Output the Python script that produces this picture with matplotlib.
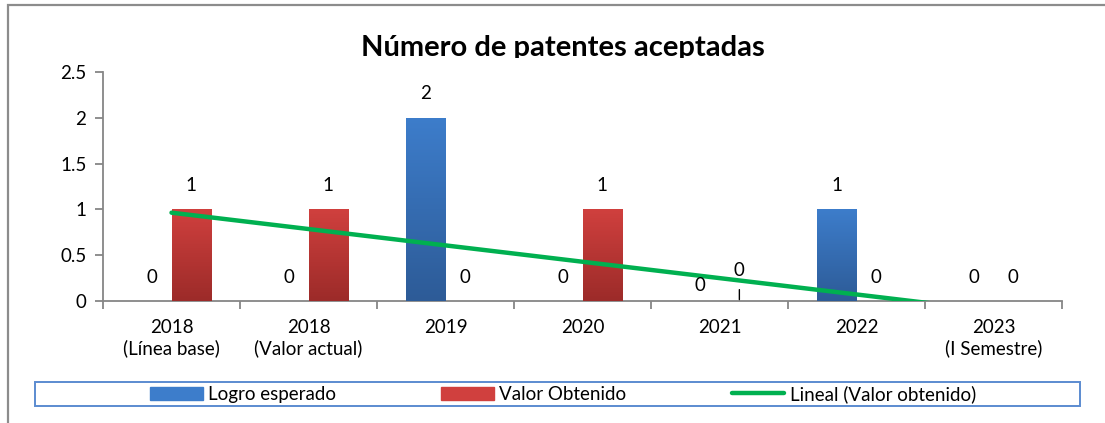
import numpy as np
import matplotlib
matplotlib.use('Agg')
import matplotlib.pyplot as plt
from matplotlib.colors import LinearSegmentedColormap
from matplotlib.patches import Rectangle
from matplotlib.lines import Line2D
from matplotlib.transforms import Bbox, TransformedBbox

plt.rcParams['font.family'] = ['Lato', 'DejaVu Sans']

categories = ['2018\n(Línea base)', '2018\n(Valor actual)', '2019', '2020', '2021', '2022', '2023\n(I Semestre)']
logro_esperado = [0, 0, 2, 0, 0, 1, 0]
valor_obtenido = [1, 1, 0, 1, 0, 0, 0]

blue_top, blue_bot = '#3D7DCB', '#2D5B97'
red_top, red_bot = '#D0403E', '#9C2B29'
green = '#00B050'
axis_gray = '#868686'

fig = plt.figure(figsize=(11.05, 4.23), dpi=100)
W, H = 1105, 423
ax = fig.add_axes([103 / W, 1 - 301 / H, (1062 - 103) / W, (301 - 72) / H])

x = np.arange(len(categories))
bw = 0.29
bars_b = ax.bar(x - bw / 2, logro_esperado, bw, color=blue_top, zorder=2)
bars_r = ax.bar(x + bw / 2, valor_obtenido, bw, color=red_top, zorder=2)

# vertical gradient fill on the bars
grad = np.linspace(1, 0, 256).reshape(-1, 1)
for bars, (c_top, c_bot) in [(bars_b, (blue_top, blue_bot)), (bars_r, (red_top, red_bot))]:
    cmap = LinearSegmentedColormap.from_list('g', [c_bot, c_top])
    for p in bars:
        if p.get_height() <= 0:
            continue
        x0, w, h = p.get_x(), p.get_width(), p.get_height()
        im = ax.imshow(grad, extent=[x0, x0 + w, 0, h], aspect='auto', cmap=cmap, zorder=3)
        im.set_clip_path(p)

# trend line (linear fit of Valor obtenido)
coef = np.polyfit(x + 1, valor_obtenido, 1)
trend = np.polyval(coef, x + 1)
ax.plot(x, trend, color=green, lw=3.2, solid_capstyle='round', zorder=4)

# data labels
fs = 13.5
for i, v in enumerate(logro_esperado):
    off = 16 if i == 4 else 24
    ax.annotate(str(v), (x[i] - bw / 2, v), xytext=(0, off), textcoords='offset pixels',
                ha='center', va='center', fontsize=fs, zorder=5)
for i, v in enumerate(valor_obtenido):
    if i == 4:
        ax.annotate(str(v), (x[i] + bw / 2, v), xytext=(0, 31), textcoords='offset pixels',
                    ha='center', va='center', fontsize=fs, zorder=5,
                    arrowprops=dict(arrowstyle='-', color='black', lw=1, shrinkA=6, shrinkB=1))
    else:
        ax.annotate(str(v), (x[i] + bw / 2, v), xytext=(0, 24), textcoords='offset pixels',
                    ha='center', va='center', fontsize=fs, zorder=5)

ax.set_xlim(-0.5, len(categories) - 0.5)
ax.set_ylim(0, 2.5)
ax.set_yticks([0, 0.5, 1, 1.5, 2, 2.5])
ax.set_yticklabels(['0', '0.5', '1', '1.5', '2', '2.5'], fontsize=fs)
ax.set_xticks(x)
ax.set_xticklabels(categories, fontsize=fs, linespacing=1.2)
ax.set_xticks(np.arange(-0.5, len(categories)), minor=True)
ax.tick_params(axis='x', which='major', length=0, pad=13)
ax.tick_params(axis='x', which='minor', length=6, color=axis_gray, width=1.3, direction='out')
ax.tick_params(axis='y', length=6, color=axis_gray, width=1.3, pad=6)
for s in ['top', 'right']:
    ax.spines[s].set_visible(False)
for s in ['left', 'bottom']:
    ax.spines[s].set_color(axis_gray)
    ax.spines[s].set_linewidth(1.3)

# title (bottom clipped like the original)
t = fig.text(563 / W, 1 - 48 / H, 'Número de patentes aceptadas', ha='center', va='center',
             fontsize=21, fontweight='bold')
t.set_clip_box(TransformedBbox(Bbox([[0, 1 - 58 / H], [1, 1]]), fig.transFigure))
t.set_clip_on(True)

# outer chart border
fig.patches.append(Rectangle((8 / W, -0.1), 1.2, 1 - 5 / H + 0.1, transform=fig.transFigure,
                             fill=False, edgecolor='#8C8C8C', lw=1.6, clip_on=False))

# legend box
fig.patches.append(Rectangle((35 / W, 1 - 406 / H), (1080 - 35) / W, 24 / H, transform=fig.transFigure,
                             facecolor='white', edgecolor='#5B8BD0', lw=1.4))
handles = [Rectangle((0, 0), 1, 1, color=blue_top), Rectangle((0, 0), 1, 1, color=red_top),
           Line2D([], [], color=green, lw=3.2, solid_capstyle='round')]
fig.legend(handles, ['Logro esperado', 'Valor Obtenido', 'Lineal (Valor obtenido)'],
           loc='center', bbox_to_anchor=(563 / W, 1 - 394 / H), ncol=3, frameon=False,
           fontsize=fs, handlelength=2.8, handleheight=0.7, handletextpad=0.3, columnspacing=5.6)

fig.savefig('out.png', dpi=100)
